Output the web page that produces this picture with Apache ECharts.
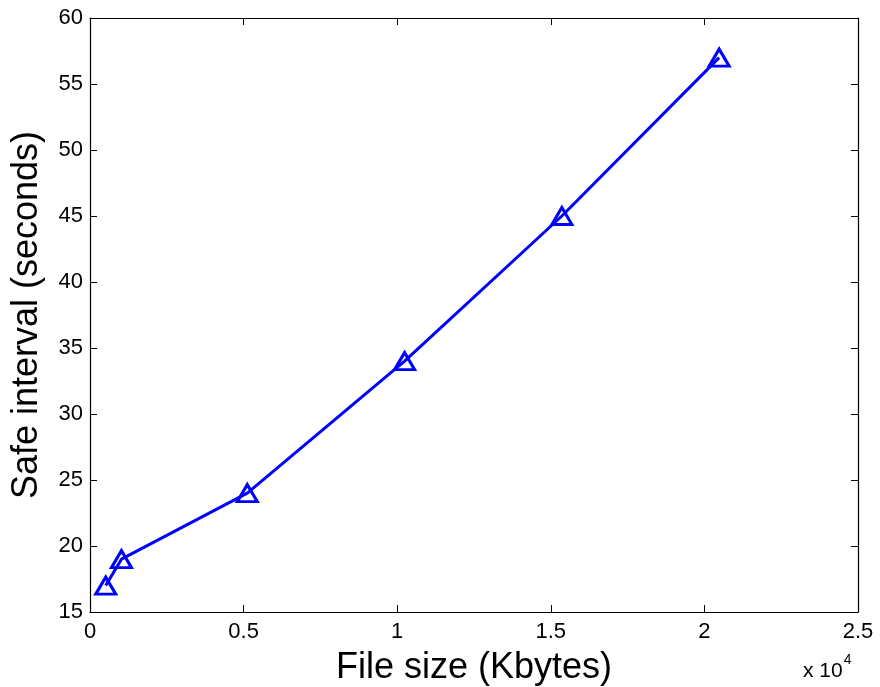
<!DOCTYPE html>
<html><head><meta charset="utf-8">
<script src="https://cdn.jsdelivr.net/npm/echarts@6/dist/echarts.min.js"></script>
<style>html,body{margin:0;padding:0;background:#fff}#c{width:880px;height:687px}</style>
</head><body><div id="c"></div>
<script>
const fileSizes = [512, 1024, 5120, 10240, 15360, 20480];
const safeIntervals = [17, 19, 24, 34, 45, 57];
const xTitle = 'File size (Kbytes)';
const yTitle = 'Safe interval (seconds)';

const chart = echarts.init(document.getElementById('c'), null, {renderer: 'canvas'});
const font = 'Liberation Sans, Arial, sans-serif';
const axisBase = {
  axisLine: {show: true, onZero: false, lineStyle: {color: '#000', width: 1.2}},
  axisTick: {show: true, inside: true, length: 7, lineStyle: {color: '#000'}},
  splitLine: {show: false}
};
chart.setOption({
  animation: false,
  grid: {left: 90, right: 22, top: 18, bottom: 75, containLabel: false, outerBoundsMode: 'none'},
  xAxis: [
    Object.assign({}, axisBase, {type: 'value', min: 0, max: 25000, interval: 5000, position: 'bottom',
      axisLabel: {color: '#000', fontSize: 22, fontFamily: font, margin: 9, formatter: v => String(v / 10000)},
      name: xTitle, nameLocation: 'middle', nameGap: 38,
      nameTextStyle: {color: '#000', fontSize: 36, fontFamily: font}}),
    Object.assign({}, axisBase, {type: 'value', min: 0, max: 25000, interval: 5000, position: 'top',
      axisLabel: {show: false}})
  ],
  yAxis: [
    Object.assign({}, axisBase, {type: 'value', min: 15, max: 60, interval: 5, position: 'left',
      axisLabel: {color: '#000', fontSize: 22, fontFamily: font, margin: 7},
      name: yTitle, nameLocation: 'middle', nameGap: 45,
      nameTextStyle: {color: '#000', fontSize: 36, fontFamily: font}}),
    Object.assign({}, axisBase, {type: 'value', min: 15, max: 60, interval: 5, position: 'right',
      axisLabel: {show: false}})
  ],
  graphic: [{
    type: 'text', left: 803, top: 653,
    style: {
      text: '{a|x 10}{b|4}',
      rich: {
        a: {fontSize: 21, fontFamily: font, fill: '#000', verticalAlign: 'bottom'},
        b: {fontSize: 14, fontFamily: font, fill: '#000', verticalAlign: 'top', padding: [0, 0, 15, 1]}
      }
    }
  }],
  series: [{
    type: 'line',
    data: fileSizes.map((x, i) => [x, safeIntervals[i]]),
    lineStyle: {color: '#0000ff', width: 3},
    symbol: 'triangle',
    symbolSize: [20, 17],
    itemStyle: {color: 'rgba(0,0,0,0)', borderColor: '#0000ff', borderWidth: 3},
    showAllSymbol: true
  }]
});
</script></body></html>
